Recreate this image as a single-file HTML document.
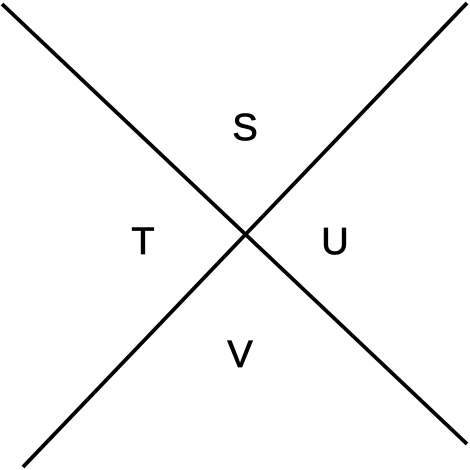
<!DOCTYPE html>
<html><head><style>
html,body{margin:0;padding:0;background:#fff;width:470px;height:470px;overflow:hidden}
text{font-family:"Liberation Sans",sans-serif;font-size:38px;fill:#000;stroke:#000;stroke-width:0.8}
</style></head><body>
<svg width="470" height="470">
<line x1="2" y1="4" x2="467" y2="444" stroke="#000" stroke-width="3.8"/>
<line x1="467" y1="3" x2="23" y2="467" stroke="#000" stroke-width="3.8"/>
<text x="245" y="140" text-anchor="middle">S</text>
<text x="143" y="254" text-anchor="middle">T</text>
<text x="335" y="254" text-anchor="middle">U</text>
<text x="240" y="367" text-anchor="middle">V</text>
</svg>
</body></html>
